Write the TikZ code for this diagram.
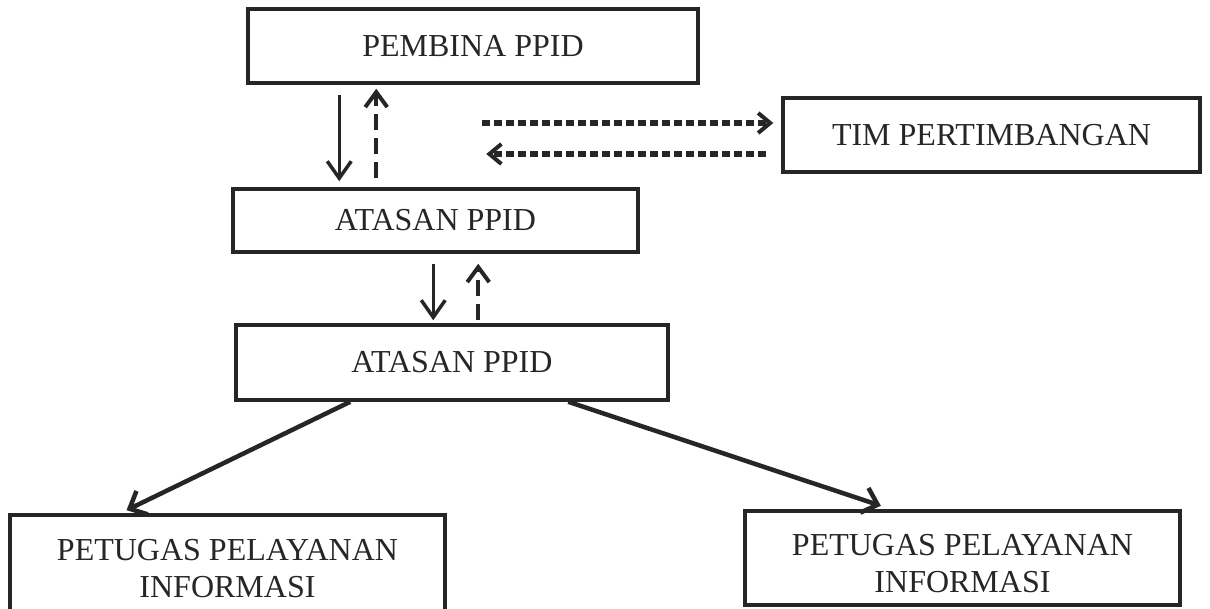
\documentclass[tikz,border=0pt]{standalone}
\usepackage{fontspec}
\setmainfont{Liberation Serif}
\usetikzlibrary{arrows.meta}
\begin{document}
\begin{tikzpicture}[x=1pt,y=-1pt,
    box/.style={draw=ink,line width=3.5pt,inner sep=0pt,align=center,
        text=ink,font=\fontsize{32}{37}\selectfont},
    solidarrow/.style={line width=3.5pt,draw=ink,-{Straight Barb[length=17pt,width=24pt,line width=3.5pt]}},
    slantarrow/.style={line width=4.5pt,draw=ink,-{Straight Barb[length=14pt,width=26pt,line width=4.5pt]}},
    dasharrow/.style={line width=4pt,draw=ink,dash pattern=on 16pt off 8pt,
        -{Straight Barb[length=15pt,width=22pt,line width=4pt]}},
    dotarrow/.style={line width=6pt,draw=ink,dash pattern=on 8pt off 4pt,
        -{Straight Barb[length=12pt,width=20pt,line width=4pt]}}]
    \definecolor{ink}{HTML}{262626}
    \useasboundingbox[fill=white] (0,0) rectangle (1210,608);
    % Boxes
    \node[box,minimum width=450pt,minimum height=74pt] (pembina) at (473,46) {PEMBINA PPID};
    \node[box,minimum width=417pt,minimum height=74pt] (tim) at (991.5,135) {TIM PERTIMBANGAN};
    \node[box,minimum width=405pt,minimum height=63pt] (atasanA) at (435.5,220.5) {ATASAN PPID};
    \node[box,minimum width=432pt,minimum height=75pt] (atasanB) at (452,362.5) {ATASAN PPID};
    \node[box,minimum width=435pt,minimum height=96pt] (petugasL) at (227.5,563) {\rule{0pt}{33pt}PETUGAS PELAYANAN\\INFORMASI};
    \node[box,minimum width=435pt,minimum height=94pt] (petugasR) at (962.5,558) {\rule{0pt}{33pt}PETUGAS PELAYANAN\\INFORMASI};
    % Pembina and atasan
    \draw[solidarrow,shorten <=10pt,shorten >=6pt] ([xshift=93pt]pembina.south west) -- ([xshift=108pt]atasanA.north west);
    \draw[dasharrow,shorten <=9pt,shorten >=4pt] ([xshift=145pt]atasanA.north west) -- ([xshift=130pt]pembina.south west);
    % Tim pertimbangan
    \draw[dotarrow,shorten >=8pt] ([xshift=-299pt,yshift=12pt]tim.west) -- ([yshift=12pt]tim.west);
    \draw[dotarrow,shorten <=15pt] ([yshift=-19pt]tim.west) -- ([xshift=-295pt,yshift=-19pt]tim.west);
    % Atasan to atasan
    \draw[solidarrow,shorten <=10pt,shorten >=3pt] ([xshift=202pt]atasanA.south west) -- ([xshift=199pt]atasanB.north west);
    \draw[dasharrow,shorten <=3pt,shorten >=10pt] ([xshift=244pt]atasanB.north west) -- ([xshift=247pt]atasanA.south west);
    % Petugas
    \draw[slantarrow,shorten >=7pt] ([xshift=116pt]atasanB.south west) -- ([xshift=112pt]petugasL.north west);
    \draw[slantarrow,shorten >=11pt] ([xshift=334pt]atasanB.south west) -- ([xshift=148pt]petugasR.north west);
\end{tikzpicture}
\end{document}
